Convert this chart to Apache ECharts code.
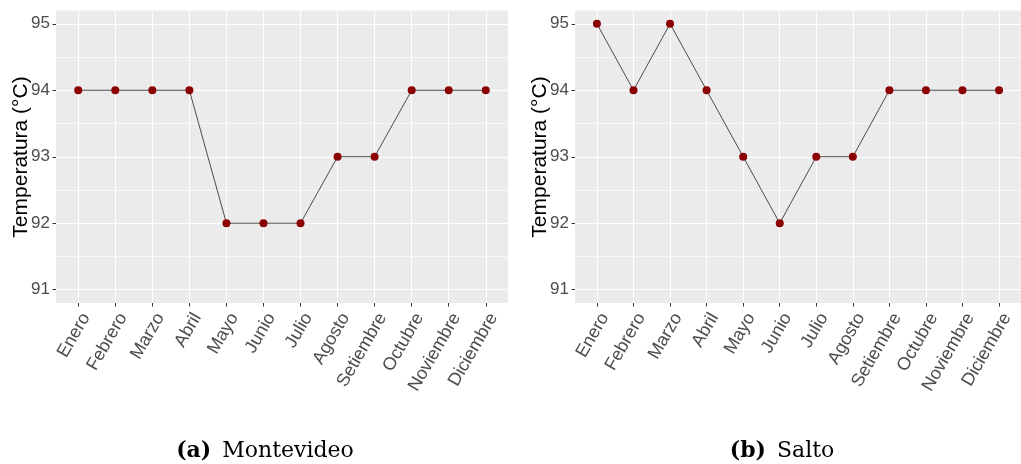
<!DOCTYPE html>
<html>
<head>
<meta charset="utf-8">
<script src="https://cdn.jsdelivr.net/npm/echarts@6/dist/echarts.min.js"></script>
<style>
html,body{margin:0;padding:0;background:#fff;}
#chart{width:1021px;height:464px;}
</style>
</head>
<body>
<div id="chart"></div>
<script>
const months = ['Enero','Febrero','Marzo','Abril','Mayo','Junio','Julio','Agosto','Setiembre','Octubre','Noviembre','Diciembre'];
const montevideo = [94,94,94,94,92,92,92,93,93,94,94,94];
const salto = [95,94,95,94,93,92,93,93,94,94,94,94];
const yTicks = [91,92,93,94,95];
const yMinor = [91.5,92.5,93.5,94.5];
const xTicks = [1,2,3,4,5,6,7,8,9,10,11,12];
const yTitle = 'Temperatura (°C)';
const captions = [['(a)','Montevideo'],['(b)','Salto']];

const chart = echarts.init(document.getElementById('chart'), null, {renderer:'canvas'});
const sans = 'Liberation Sans, Arial, sans-serif';
const serif = 'DejaVu Serif, serif';
const grids = [
  {left:56, top:10.5, width:452, height:292.5, show:true, backgroundColor:'#EBEBEB', borderWidth:0},
  {left:575, top:10.5, width:452, height:292.5, show:true, backgroundColor:'#EBEBEB', borderWidth:0}
];
const xAxes = [], yAxes = [], series = [];
[montevideo, salto].forEach((vals, i) => {
  xAxes.push({
    type:'value', gridIndex:i, min:0.4, max:12.6,
    axisLine:{show:false},
    axisTick:{show:true, customValues:xTicks, length:3.5, lineStyle:{color:'#333', width:1}},
    axisLabel:{customValues:xTicks, rotate:60, margin:7, verticalAlign:'top', color:'#4D4D4D', fontSize:18, fontFamily:sans,
      formatter:v => months[Math.round(v)-1] || ''},
    splitLine:{show:true, lineStyle:{color:'#FFFFFF', width:1.1}}
  });
  yAxes.push({
    type:'value', gridIndex:i, min:90.8, max:95.2,
    axisLine:{show:false},
    axisTick:{show:true, customValues:yTicks, length:3.5, lineStyle:{color:'#333', width:1}},
    axisLabel:{customValues:yTicks, margin:6, color:'#4D4D4D', fontSize:17, fontFamily:sans},
    splitLine:{show:true, lineStyle:{color:'#FFFFFF', width:1.1}}
  });
  series.push({
    type:'line', xAxisIndex:i, yAxisIndex:i*2,
    data: vals.map((v,k)=>[k+1, v]),
    symbol:'circle', symbolSize:8,
    itemStyle:{color:'#8B0000'},
    lineStyle:{color:'#222', width:0.8},
    z:5
  });
});
const allY = [];
[0,1].forEach(i => {
  allY.push(yAxes[i]);
  allY.push({
    type:'value', gridIndex:i, min:90.8, max:95.2, position:'left',
    axisLine:{show:false},
    axisTick:{show:false, customValues:yMinor},
    axisLabel:{show:false, customValues:yMinor},
    splitLine:{show:true, lineStyle:{color:'#FFFFFF', width:0.6}}
  });
});

const capRich = {
  b:{fontFamily:serif, fontWeight:'bold', fontSize:22, color:'#000'},
  r:{fontFamily:serif, fontWeight:'normal', fontSize:22, color:'#000', padding:[0,0,0,11]}
};
chart.setOption({
  animation:false,
  backgroundColor:'#fff',
  grid:grids,
  xAxis:xAxes,
  yAxis:allY,
  graphic:[
    {type:'text', x:21, y:157, rotation:Math.PI/2,
      style:{text:yTitle, fill:'#000', font:'21px ' + sans, align:'center', verticalAlign:'middle'}},
    {type:'text', x:540, y:157, rotation:Math.PI/2,
      style:{text:yTitle, fill:'#000', font:'21px ' + sans, align:'center', verticalAlign:'middle'}}
  ],
  title:[
    {left:260, top:435, textAlign:'center', text:'{b|' + captions[0][0] + '}{r|' + captions[0][1] + '}',
      textStyle:{fontWeight:'normal', rich:capRich}},
    {left:777, top:435, textAlign:'center', text:'{b|' + captions[1][0] + '}{r|' + captions[1][1] + '}',
      textStyle:{fontWeight:'normal', rich:capRich}}
  ],
  series:series
});
</script>
</body>
</html>
